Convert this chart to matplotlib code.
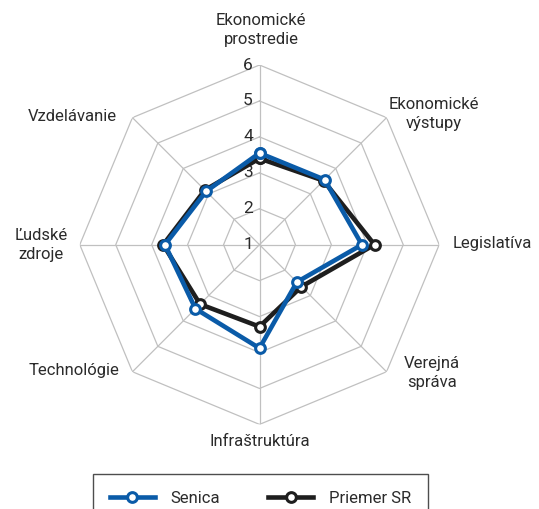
import numpy as np
import matplotlib
matplotlib.use("Agg")
import matplotlib.pyplot as plt

plt.rcParams['font.family'] = ['Roboto', 'DejaVu Sans']

# Data
categories = ["Ekonomické\nprostredie", "Ekonomické\nvýstupy", "Legislatíva", "Verejná\nspráva",
              "Infraštruktúra", "Technológie", "Ľudské\nzdroje", "Vzdelávanie"]
senica = [3.55, 3.56, 3.85, 2.47, 3.88, 3.52, 3.63, 3.1]
priemer = [3.4, 3.52, 4.2, 2.65, 3.28, 3.34, 3.68, 3.15]
ticks = [1, 2, 3, 4, 5, 6]

blue = "#0a5ba8"
black = "#1e1e1e"
grid = "#c0c0c0"
txt = "#2b2b2b"
fs = 12

W, H = 539, 509
fig = plt.figure(figsize=(W / 100, H / 100), dpi=100)

# polar axes, center at (259.5, 244.7) px, radius 179.7 px
cx, cy, R = 259.5, 244.7, 179.7
ax = fig.add_axes([(cx - R) / W, (H - cy - R) / H, 2 * R / W, 2 * R / H], projection='polar')
ax.set_theta_offset(np.pi / 2)
ax.set_theta_direction(-1)
ax.set_rlim(ticks[0], ticks[-1])
ax.grid(False)
ax.spines['polar'].set_visible(False)
ax.set_xticks([])
ax.set_yticks([])
ax.patch.set_alpha(0)

n = len(categories)
angles = np.linspace(0, 2 * np.pi, n, endpoint=False)
closed = np.append(angles, angles[0])

# octagon grid
for t in ticks[1:]:
    ax.plot(closed, [t] * (n + 1), color=grid, lw=0.9, zorder=1)
for a in angles:
    ax.plot([a, a], [ticks[0], ticks[-1]], color=grid, lw=0.9, zorder=1)

for t in ticks:
    ax.annotate(str(t), (0, t), xytext=(-11.5, 0), textcoords='offset pixels',
                ha='center', va='center', fontsize=fs + 0.5, color=txt, zorder=2)

def series(vals, color, label, z):
    v = np.append(vals, vals[0])
    ax.plot(closed, v, color=color, lw=3.3, zorder=z, label=label,
            marker='o', markersize=7, markerfacecolor='white',
            markeredgecolor=color, markeredgewidth=2.2)

series(priemer, black, "Priemer SR", 3)
series(senica, blue, "Senica", 4)

# category labels (pixel positions)
label_pos = [(261, 30), (434, 114), (492, 244), (432, 373),
             (260, 442), (74, 371), (41, 245), (72, 116.5)]
for lab, (x, y) in zip(categories, label_pos):
    fig.text(x / W, 1 - y / H, lab, ha='center', va='center', fontsize=fs,
             color=txt, linespacing=1.35)

handles, labels = ax.get_legend_handles_labels()
leg = fig.legend(handles[::-1], labels[::-1], ncol=2, loc='upper left',
                 bbox_to_anchor=(93 / W, 1 - 474 / H), fontsize=fs,
                 frameon=True, fancybox=False, edgecolor='#222222',
                 handlelength=2.7, handletextpad=0.95, columnspacing=2.9,
                 borderpad=1.0, borderaxespad=0)
leg.get_frame().set_linewidth(1.0)
for t in leg.get_texts():
    t.set_color(txt)

fig.savefig("out.png", dpi=100)
